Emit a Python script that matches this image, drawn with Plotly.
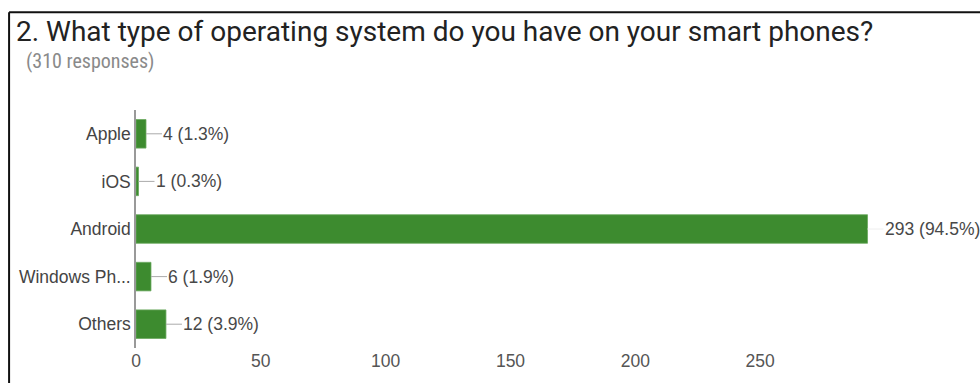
import plotly.graph_objects as go

categories = ["Apple", "iOS", "Android", "Windows Ph...", "Others"]
counts = [4, 1, 293, 6, 12]
percents = ["1.3%", "0.3%", "94.5%", "1.9%", "3.9%"]
tick_vals = [0, 50, 100, 150, 200, 250]
title_text = "2. What type of operating system do you have on your smart phones?"
subtitle_text = "(310 responses)"

W, H = 980, 383
ML, MR, MT, MB = 136, 94.5, 110, 33
PW = W - ML - MR

def px_to_paper_x(px):
    return (px - ML) / PW

def py_to_paper_y(py):
    return (H - MB - py) / (H - MT - MB)

fig = go.Figure()
fig.add_trace(go.Bar(
    x=counts, y=categories, orientation="h",
    marker=dict(color="#3d8b2f", line=dict(color="#6aa85e", width=0.8)),
    hoverinfo="skip",
))

annots = []
for c, v, p in zip(categories, counts, percents):
    big = v > 100
    annots.append(dict(
        x=v, y=c, xref="x", yref="y",
        text=f"{v} ({p})", showarrow=True, arrowhead=0,
        arrowwidth=1, arrowcolor="#eeeeee" if big else "#aaaaaa",
        ax=16, ay=0, xanchor="left", borderpad=0,
        font=dict(family="Liberation Sans, Arial", size=17.5, color="#484848"),
    ))

annots.append(dict(
    x=px_to_paper_x(23.5), y=py_to_paper_y(61), xref="paper", yref="paper",
    text=subtitle_text, showarrow=False, xanchor="left", yanchor="middle",
    font=dict(family="Roboto Condensed, Roboto", size=20, color="#8a8a8a"),
))

shapes = [
    dict(type="line", xref="paper", yref="paper",
         x0=px_to_paper_x(9), x1=px_to_paper_x(9),
         y0=py_to_paper_y(11.5), y1=py_to_paper_y(H + 5),
         line=dict(color="#111111", width=2)),
    dict(type="line", xref="paper", yref="paper",
         x0=px_to_paper_x(9), x1=px_to_paper_x(W + 5),
         y0=py_to_paper_y(11.5), y1=py_to_paper_y(11.5),
         line=dict(color="#111111", width=2)),
]

fig.update_layout(
    width=W, height=H,
    margin=dict(l=ML, r=MR, t=MT, b=MB, pad=0),
    paper_bgcolor="white", plot_bgcolor="white",
    showlegend=False, bargap=0.4,
    title=dict(text=title_text, xref="container", yref="container",
               x=16 / W, xanchor="left", y=1 - 31 / H, yanchor="middle",
               font=dict(family="Roboto", size=28, color="#222222")),
    xaxis=dict(range=[0, 300], tickvals=tick_vals, showgrid=False,
               zeroline=False, showline=False, ticks="",
               tickfont=dict(family="Liberation Sans, Arial", size=17.5, color="#555555")),
    yaxis=dict(autorange="reversed", showgrid=False, zeroline=False,
               showline=True, linecolor="#999999", linewidth=1.5,
               ticks="", ticklabelstandoff=0,
               tickfont=dict(family="Liberation Sans, Arial", size=17.5, color="#444444")),
    annotations=annots, shapes=shapes,
)

fig.write_html("out.html")
